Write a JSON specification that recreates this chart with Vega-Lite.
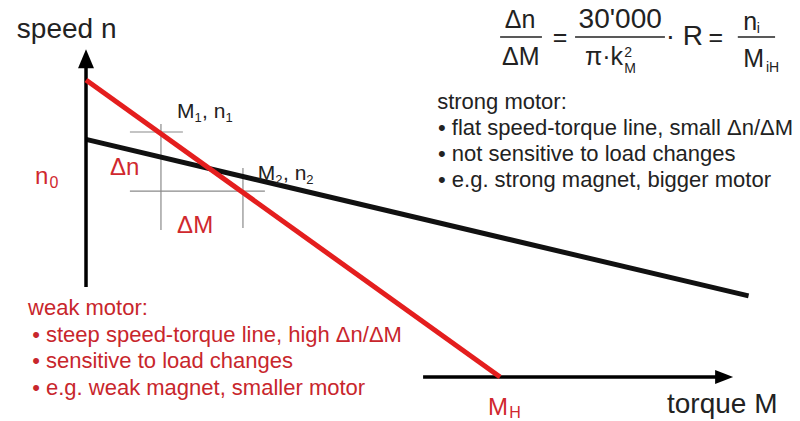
{
  "$schema": "https://vega.github.io/schema/vega-lite/v6.json",
  "width": 800,
  "height": 421,
  "autosize": {"type": "none"},
  "padding": 0,
  "background": "white",
  "config": {"view": {"stroke": null}},
  "datasets": {
    "guides": [
      {"M": 1.06, "M2": 2.34, "n": 8.25, "n2": 8.25},
      {"M": 1.06, "M2": 4.32, "n": 6.26, "n2": 6.26},
      {"M": 1.81, "M2": 1.81, "n": 8.52, "n2": 4.95},
      {"M": 3.79, "M2": 3.79, "n": 7.04, "n2": 5.02}
    ],
    "axes": [
      {"M": 0, "M2": 0, "n": 3.03, "n2": 10.6},
      {"M": 8.14, "M2": 15.3, "n": 0, "n2": 0}
    ],
    "strong": [{"M": 0, "n": 8.0, "M2": 16.0, "n2": 2.73}],
    "weak": [{"M": 0, "n": 10.0, "M2": 10.0, "n2": 0}],
    "arrowUp": [{"M": 0, "n": 10.72}],
    "arrowRight": [{"M": 15.41, "n": 0}],
    "bars": [
      {"M": 10.0, "M2": 11.01, "n": 11.45, "n2": 11.45},
      {"M": 11.81, "M2": 13.98, "n": 11.45, "n2": 11.45},
      {"M": 15.74, "M2": 16.64, "n": 11.45, "n2": 11.45}
    ],
    "bigBlack": [
      {"M": -1.67, "n": 11.41, "t": "speed n"},
      {"M": 14.03, "n": -1.21, "t": "torque M"}
    ],
    "pointLabels": [
      {"M": 2.2, "n": 8.72, "t": "M"},
      {"M": 2.8, "n": 8.72, "t": ", n"},
      {"M": 4.15, "n": 6.63, "t": "M"},
      {"M": 4.76, "n": 6.63, "t": ", n"}
    ],
    "pointSubs": [
      {"M": 2.62, "n": 8.59, "t": "1"},
      {"M": 3.37, "n": 8.59, "t": "1"},
      {"M": 4.57, "n": 6.5, "t": "2"},
      {"M": 5.32, "n": 6.5, "t": "2"}
    ],
    "redLabels": [
      {"M": -1.23, "n": 6.5, "t": "n"},
      {"M": 0.58, "n": 6.8, "t": "Δn"},
      {"M": 2.2, "n": 4.85, "t": "ΔM"},
      {"M": 9.71, "n": -1.28, "t": "M"}
    ],
    "redSub": [
      {"M": 10.22, "n": -1.38, "t": "H"},
      {"M": -0.88, "n": 6.36, "t": "0"}
    ],
    "formulaCenter": [
      {"M": 10.48, "n": 11.75, "t": "Δn"},
      {"M": 10.5, "n": 10.5, "t": "ΔM"},
      {"M": 11.45, "n": 11.14, "t": "="},
      {"M": 15.21, "n": 11.14, "t": "="}
    ],
    "formulaCenterBig": [{"M": 12.9, "n": 11.75, "t": "30'000"}],
    "formulaLeft": [
      {"M": 12.05, "n": 10.5, "t": "π·k"},
      {"M": 15.87, "n": 11.68, "t": "n"},
      {"M": 15.87, "n": 10.44, "t": "M"}
    ],
    "formulaLeftBig": [{"M": 14.0, "n": 11.18, "t": "· R"}],
    "formulaSub": [
      {"M": 13.0, "n": 10.76, "t": "2"},
      {"M": 13.0, "n": 10.25, "t": "M"},
      {"M": 16.2, "n": 11.58, "t": "i"},
      {"M": 16.42, "n": 10.27, "t": "iH"}
    ],
    "strongText": [
      {"M": 8.48, "n": 9.02, "t": "strong  motor:"},
      {"M": 8.5, "n": 8.15, "t": "• flat speed-torque line, small Δn/ΔM"},
      {"M": 8.5, "n": 7.27, "t": "• not sensitive to load changes"},
      {"M": 8.5, "n": 6.4, "t": "• e.g. strong magnet, bigger motor"}
    ],
    "weakText": [
      {"M": -1.4, "n": 2.09, "t": "weak  motor:"},
      {"M": -1.3, "n": 1.18, "t": "• steep speed-torque line, high Δn/ΔM"},
      {"M": -1.3, "n": 0.3, "t": "• sensitive to load changes"},
      {"M": -1.3, "n": -0.61, "t": "• e.g. weak magnet, smaller motor"}
    ]
  },
  "encoding": {
    "x": {"field": "M", "type": "quantitative", "scale": {"domain": [-2.077, 17.242], "nice": false, "zero": false}, "axis": null},
    "y": {"field": "n", "type": "quantitative", "scale": {"domain": [-1.481, 12.694], "nice": false, "zero": false}, "axis": null}
  },
  "layer": [
    {"data": {"name": "guides"}, "mark": {"type": "rule", "color": "#8a8a8a", "strokeWidth": 1.2},
     "encoding": {"x2": {"field": "M2"}, "y2": {"field": "n2"}}},
    {"data": {"name": "strong"}, "mark": {"type": "rule", "color": "#111111", "strokeWidth": 5},
     "encoding": {"x2": {"field": "M2"}, "y2": {"field": "n2"}}},
    {"data": {"name": "axes"}, "mark": {"type": "rule", "color": "#000000", "strokeWidth": 3.5},
     "encoding": {"x2": {"field": "M2"}, "y2": {"field": "n2"}}},
    {"data": {"name": "weak"}, "mark": {"type": "rule", "color": "#e41e1e", "strokeWidth": 5},
     "encoding": {"x2": {"field": "M2"}, "y2": {"field": "n2"}}},
    {"data": {"name": "arrowUp"}, "mark": {"type": "point", "shape": "M0,-1L0.84,1L-0.84,1Z", "size": 361, "filled": true, "color": "#000000", "opacity": 1, "strokeWidth": 0}},
    {"data": {"name": "arrowRight"}, "mark": {"type": "point", "shape": "M1,0L-1,-0.78L-1,0.78Z", "size": 324, "filled": true, "color": "#000000", "opacity": 1, "strokeWidth": 0}},
    {"data": {"name": "bars"}, "mark": {"type": "rule", "color": "#222222", "strokeWidth": 1.5},
     "encoding": {"x2": {"field": "M2"}, "y2": {"field": "n2"}}},
    {"data": {"name": "bigBlack"}, "mark": {"type": "text", "align": "left", "baseline": "alphabetic", "font": "Liberation Sans", "fontSize": 28, "color": "#222222"},
     "encoding": {"text": {"field": "t"}}},
    {"data": {"name": "pointLabels"}, "mark": {"type": "text", "align": "left", "baseline": "alphabetic", "font": "Liberation Sans", "fontSize": 21, "color": "#222222"},
     "encoding": {"text": {"field": "t"}}},
    {"data": {"name": "pointSubs"}, "mark": {"type": "text", "align": "left", "baseline": "alphabetic", "font": "Liberation Sans", "fontSize": 13, "color": "#222222"},
     "encoding": {"text": {"field": "t"}}},
    {"data": {"name": "redLabels"}, "mark": {"type": "text", "align": "left", "baseline": "alphabetic", "font": "Liberation Sans", "fontSize": 24, "color": "#d0282e"},
     "encoding": {"text": {"field": "t"}}},
    {"data": {"name": "redSub"}, "mark": {"type": "text", "align": "left", "baseline": "alphabetic", "font": "Liberation Sans", "fontSize": 16, "color": "#d0282e"},
     "encoding": {"text": {"field": "t"}}},
    {"data": {"name": "formulaCenter"}, "mark": {"type": "text", "align": "center", "baseline": "alphabetic", "font": "Liberation Sans", "fontSize": 25, "color": "#222222"},
     "encoding": {"text": {"field": "t"}}},
    {"data": {"name": "formulaCenterBig"}, "mark": {"type": "text", "align": "center", "baseline": "alphabetic", "font": "Liberation Sans", "fontSize": 28, "color": "#222222"},
     "encoding": {"text": {"field": "t"}}},
    {"data": {"name": "formulaLeft"}, "mark": {"type": "text", "align": "left", "baseline": "alphabetic", "font": "Liberation Sans", "fontSize": 25, "color": "#222222"},
     "encoding": {"text": {"field": "t"}}},
    {"data": {"name": "formulaLeftBig"}, "mark": {"type": "text", "align": "left", "baseline": "alphabetic", "font": "Liberation Sans", "fontSize": 28, "color": "#222222"},
     "encoding": {"text": {"field": "t"}}},
    {"data": {"name": "formulaSub"}, "mark": {"type": "text", "align": "left", "baseline": "alphabetic", "font": "Liberation Sans", "fontSize": 14, "color": "#222222"},
     "encoding": {"text": {"field": "t"}}},
    {"data": {"name": "strongText"}, "mark": {"type": "text", "align": "left", "baseline": "alphabetic", "font": "Liberation Sans", "fontSize": 22, "color": "#222222"},
     "encoding": {"text": {"field": "t"}}},
    {"data": {"name": "weakText"}, "mark": {"type": "text", "align": "left", "baseline": "alphabetic", "font": "Liberation Sans", "fontSize": 22, "color": "#c8262c"},
     "encoding": {"text": {"field": "t"}}}
  ]
}
